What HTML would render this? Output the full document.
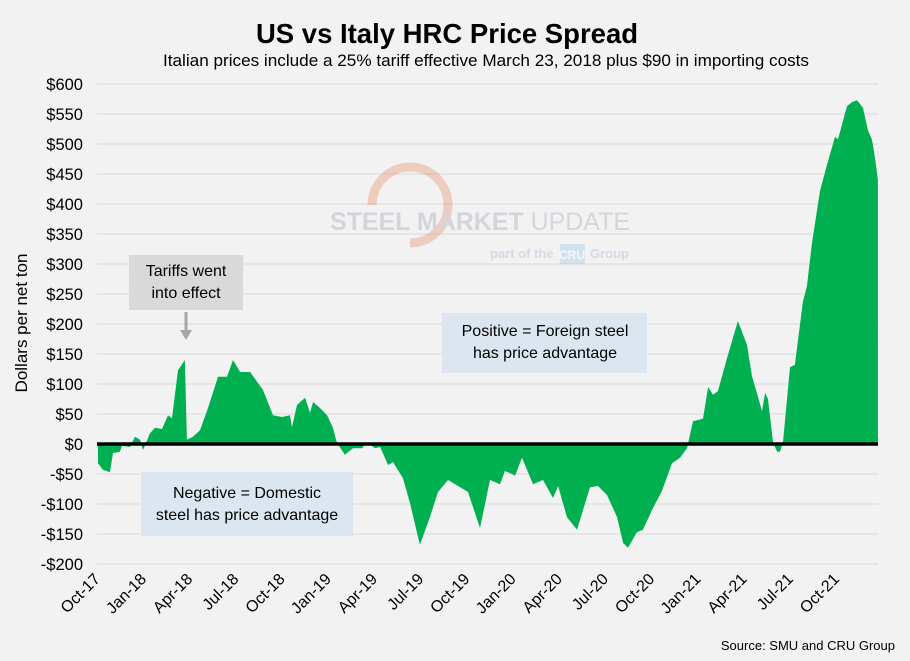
<!DOCTYPE html>
<html><head><meta charset="utf-8"><style>
html,body{margin:0;padding:0;background:#f2f2f2;}
svg{display:block;font-family:"Liberation Sans",sans-serif;}
</style></head><body>
<svg id="chart" width="910" height="661" viewBox="0 0 910 661">
<rect x="0" y="0" width="910" height="661" fill="#f2f2f2"/>
<text x="447" y="43" text-anchor="middle" font-size="27.5" font-weight="bold" fill="#000">US vs Italy HRC Price Spread</text>
<text x="486" y="66" text-anchor="middle" font-size="17" fill="#000" textLength="646" lengthAdjust="spacingAndGlyphs">Italian prices include a 25% tariff effective March 23, 2018 plus $90 in importing costs</text>
<text transform="translate(27,323) rotate(-90)" text-anchor="middle" font-size="17" fill="#000">Dollars per net ton</text>
<g id="grid"></g>
<g opacity="0.3">
<path d="M372,205 A38,38 0 1 1 410,243" fill="none" stroke="#e8774a" stroke-width="9"/>
<text x="480" y="230" text-anchor="middle" font-size="25" font-weight="bold" fill="#8a96a8" textLength="300" lengthAdjust="spacingAndGlyphs">STEEL MARKET <tspan font-weight="normal">UPDATE</tspan></text>
<text x="490" y="258" font-size="13" font-weight="bold" fill="#8aa8c8">part of the</text>
<rect x="560" y="244" width="25" height="20" fill="#8ac0e0"/>
<text x="572" y="259" text-anchor="middle" font-size="12" font-weight="bold" fill="#fff">CRU</text>
<text x="590" y="258" font-size="13" font-weight="bold" fill="#8aa8c8">Group</text>
</g>
<g id="series"></g>
<g id="xlabels"></g>
<rect x="129" y="255" width="114" height="55" fill="#d9d9d9"/>
<text x="186" y="276" text-anchor="middle" font-size="16" fill="#000"><tspan x="186">Tariffs went</tspan><tspan x="186" dy="22">into effect</tspan></text>
<line x1="186" y1="312" x2="186" y2="332" stroke="#a6a6a6" stroke-width="3"/>
<polygon points="180,330 192,330 186,340" fill="#a6a6a6"/>
<rect x="442" y="313" width="205" height="60" fill="#dce6f1"/>
<text x="545" y="336" text-anchor="middle" font-size="16" fill="#000"><tspan x="545">Positive = Foreign steel</tspan><tspan x="545" dy="22">has price advantage</tspan></text>
<rect x="141" y="472" width="212" height="64" fill="#dce6f1"/>
<text x="247" y="498" text-anchor="middle" font-size="16" fill="#000"><tspan x="247">Negative = Domestic</tspan><tspan x="247" dy="22">steel has price advantage</tspan></text>
<text x="895" y="650" text-anchor="end" font-size="13" fill="#000">Source: SMU and CRU Group</text>
</svg>
<script>
const months = [0.06,0.39,0.84,1.04,1.49,1.62,2.14,2.47,2.79,2.99,3.44,3.77,4.22,4.61,4.87,5.26,5.71,5.84,6.23,6.69,7.21,7.86,8.44,8.83,9.29,9.94,10.78,11.43,12.01,12.53,12.66,12.99,13.51,13.83,14.03,14.48,14.94,15.32,15.58,16.10,16.62,17.21,17.53,18.05,18.38,18.90,19.22,19.87,20.32,20.97,21.62,22.14,22.79,24.09,24.87,25.52,26.17,26.49,26.95,27.14,27.60,28.31,28.96,29.61,29.94,30.52,31.17,32.01,32.53,33.12,33.77,34.16,34.48,35.06,35.45,36.10,36.69,37.34,37.86,38.31,38.70,39.35,39.68,40.00,40.32,40.91,41.62,42.21,42.53,43.18,43.38,43.57,43.90,44.16,44.35,44.55,45.00,45.32,45.84,46.10,46.43,46.95,47.40,47.92,48.12,48.70,49.03,49.35,49.74,50.06,50.32,50.52,50.71];
const spread = [-32,-43,-47,-15,-13,-3,-5,12,7,-10,18,27,25,48,43,123,140,7,12,23,60,112,112,140,120,120,90,48,45,48,28,65,77,52,70,60,48,27,2,-18,-7,-7,3,-7,-5,-35,-30,-57,-98,-168,-122,-80,-60,-80,-140,-60,-67,-45,-50,-53,-23,-67,-60,-90,-70,-122,-143,-72,-70,-85,-122,-165,-173,-147,-143,-107,-78,-32,-23,-7,38,42,95,82,88,143,205,165,113,55,85,75,2,-13,-13,5,128,132,237,263,335,422,465,512,508,563,570,573,560,523,508,477,440];
const yTicks = [-200,-150,-100,-50,0,50,100,150,200,250,300,350,400,450,500,550,600];
const xTickLabels = ["Oct-17","Jan-18","Apr-18","Jul-18","Oct-18","Jan-19","Apr-19","Jul-19","Oct-19","Jan-20","Apr-20","Jul-20","Oct-20","Jan-21","Apr-21","Jul-21","Oct-21"];
const xTickMonths = [0,3,6,9,12,15,18,21,24,27,30,33,36,39,42,45,48];

const NS="http://www.w3.org/2000/svg";
const X0=97,X1=878,MPX=15.4;
function xs(m){return X0+m*MPX;}
function ys(v){return 444-v*0.6;}
const grid=document.getElementById('grid');
yTicks.forEach(v=>{
  const l=document.createElementNS(NS,'line');
  l.setAttribute('x1',X0);l.setAttribute('x2',X1);l.setAttribute('y1',ys(v));l.setAttribute('y2',ys(v));
  l.setAttribute('stroke','#d9d9d9');l.setAttribute('stroke-width','1');
  
  
  grid.appendChild(l);
  const t=document.createElementNS(NS,'text');
  t.setAttribute('x',83);t.setAttribute('y',ys(v)+6);t.setAttribute('text-anchor','end');
  t.setAttribute('font-size','16.5');t.setAttribute('fill','#000');
  t.textContent=(v<0?'-$'+(-v):'$'+v);
  
  
  grid.appendChild(t);
});
const ser=document.getElementById('series');
let d='M'+xs(months[0])+','+ys(0);
months.forEach((m,i)=>{d+=' L'+xs(m).toFixed(1)+','+ys(spread[i]).toFixed(1);});
d+=' L'+xs(months[months.length-1])+','+ys(0)+' Z';
const p=document.createElementNS(NS,'path');
p.setAttribute('d',d);p.setAttribute('fill','#00b050');


ser.appendChild(p);
const z=document.createElementNS(NS,'line');
z.setAttribute('x1',X0);z.setAttribute('x2',X1);z.setAttribute('y1',ys(0));z.setAttribute('y2',ys(0));
z.setAttribute('stroke','#000');z.setAttribute('stroke-width','3.5');


ser.appendChild(z);
const xl=document.getElementById('xlabels');
xTickLabels.forEach((s,i)=>{
  const x=xs(xTickMonths[i])+4,y=580;
  const t=document.createElementNS(NS,'text');
  t.setAttribute('transform','translate('+x+','+y+') rotate(-45)');
  t.setAttribute('text-anchor','end');t.setAttribute('font-size','16');t.setAttribute('fill','#000');
  t.textContent=s;
  
  
  xl.appendChild(t);
});
</script>
</body></html>
